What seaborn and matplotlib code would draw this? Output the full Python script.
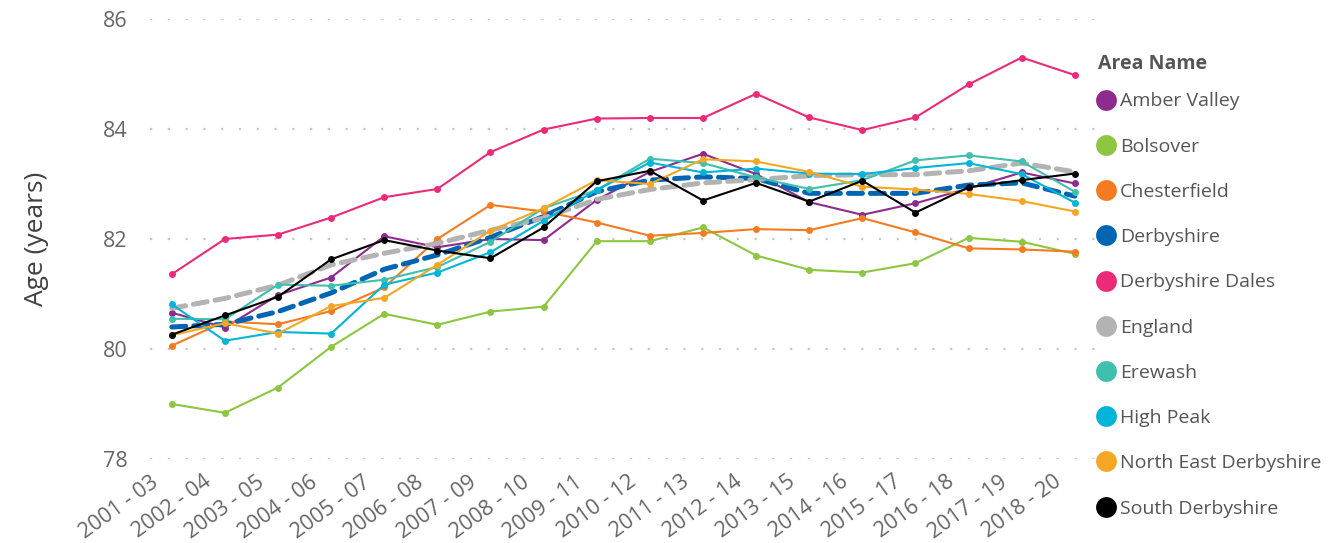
import matplotlib
matplotlib.use('Agg')
import matplotlib.pyplot as plt
import matplotlib.transforms as mtransforms
import seaborn as sns
import pandas as pd

# ===============================
# DADOS
# ===============================
periodos = ['2001 - 03', '2002 - 04', '2003 - 05', '2004 - 06', '2005 - 07', '2006 - 08',
            '2007 - 09', '2008 - 10', '2009 - 11', '2010 - 12', '2011 - 13', '2012 - 14',
            '2013 - 15', '2014 - 16', '2015 - 17', '2016 - 18', '2017 - 19', '2018 - 20']

amber_valley = [80.66, 80.39, 80.98, 81.30, 82.05, 81.85, 82.00, 81.98, 82.71, 83.22, 83.55, 83.18,
                82.67, 82.44, 82.65, 82.92, 83.21, 83.01]
bolsover = [79.00, 78.84, 79.30, 80.04, 80.64, 80.44, 80.68, 80.77, 81.96, 81.96, 82.21, 81.70,
            81.44, 81.39, 81.56, 82.02, 81.95, 81.73]
chesterfield = [80.06, 80.50, 80.45, 80.69, 81.12, 82.00, 82.62, 82.50, 82.30, 82.06, 82.11, 82.18,
                82.16, 82.38, 82.12, 81.83, 81.81, 81.77]
derbyshire = [80.40, 80.45, 80.68, 81.02, 81.45, 81.71, 82.03, 82.41, 82.86, 83.07, 83.13, 83.10,
              82.83, 82.83, 82.83, 82.98, 83.02, 82.78]
derbyshire_dales = [81.36, 82.00, 82.08, 82.39, 82.76, 82.91, 83.58, 83.99, 84.19, 84.20, 84.20, 84.64,
                    84.21, 83.98, 84.21, 84.81, 85.30, 84.98]
england = [80.74, 80.92, 81.16, 81.53, 81.74, 81.92, 82.16, 82.38, 82.72, 82.90, 83.02, 83.08,
           83.15, 83.17, 83.17, 83.24, 83.38, 83.22]
erewash = [80.55, 80.54, 81.17, 81.15, 81.26, 81.49, 81.95, 82.56, 82.89, 83.46, 83.38, 83.12,
           82.91, 83.07, 83.43, 83.52, 83.41, 82.86]
high_peak = [80.81, 80.15, 80.31, 80.28, 81.17, 81.39, 81.76, 82.33, 82.89, 83.39, 83.21, 83.28,
             83.19, 83.18, 83.29, 83.38, 83.18, 82.66]
ne_derbyshire = [80.25, 80.47, 80.28, 80.78, 80.93, 81.53, 82.15, 82.56, 83.07, 83.00, 83.45, 83.41,
                 83.22, 82.95, 82.90, 82.82, 82.69, 82.50]
south_derbyshire = [80.26, 80.61, 80.95, 81.63, 81.98, 81.79, 81.65, 82.21, 83.05, 83.24, 82.70, 83.02,
                    82.68, 83.06, 82.48, 82.94, 83.07, 83.19]

areas = ['Amber Valley', 'Bolsover', 'Chesterfield', 'Derbyshire', 'Derbyshire Dales',
         'England', 'Erewash', 'High Peak', 'North East Derbyshire', 'South Derbyshire']
valores = [amber_valley, bolsover, chesterfield, derbyshire, derbyshire_dales,
           england, erewash, high_peak, ne_derbyshire, south_derbyshire]
cores = ['#8E2B8E', '#8DC63F', '#F47B20', '#0066B3', '#EC2A7A',
         '#B3B3B3', '#3FBFAD', '#00B5D8', '#F5A623', '#000000']

df = pd.DataFrame({
    'Periodo': periodos * len(areas),
    'Idade': [v for serie in valores for v in serie],
    'Area': [a for a in areas for _ in periodos],
})
df['x'] = df.groupby('Area').cumcount()

# ===============================
# GRÁFICO
# ===============================
sns.set_style('white')
plt.rcParams['font.family'] = ['Open Sans', 'DejaVu Sans']

fig = plt.figure(figsize=(13.32, 5.43), dpi=100)
ax = fig.add_axes([150 / 1332, 84 / 543, 945 / 1332, 440 / 543])

for area, cor in zip(areas, cores):
    dados = df[df['Area'] == area]
    if area in ('Derbyshire', 'England'):
        sns.lineplot(data=dados, x='x', y='Idade', ax=ax, color=cor, linewidth=3.6,
                     dashes=False, legend=False)
        ax.lines[-1].set_dashes((2.8, 1.6))
        ax.lines[-1].set_dash_capstyle('round')
    else:
        sns.lineplot(data=dados, x='x', y='Idade', ax=ax, color=cor, linewidth=1.5,
                     marker='o', markersize=5, markeredgewidth=0, legend=False)

ax.set_ylim(78, 86)
ax.set_xlim(-0.41, 17.38)
ax.set_yticks([78, 80, 82, 84, 86])
ax.set_xticks(range(len(periodos)))
ax.set_xticklabels(periodos, rotation=36, ha='right', rotation_mode='anchor')
ax.tick_params(axis='both', length=0, labelcolor='#666666')
ax.tick_params(axis='y', pad=16, labelsize=15.5)
ax.tick_params(axis='x', pad=3, labelsize=15.5)
desloc = mtransforms.ScaledTranslation(-16 / 72, -6 / 72, fig.dpi_scale_trans)
for lbl in ax.get_xticklabels():
    lbl.set_transform(lbl.get_transform() + desloc)

ax.grid(axis='y', color='#C8C8C8', linestyle=(0, (1, 7)), linewidth=1.6)
ax.grid(axis='x', visible=False)
for s in ax.spines.values():
    s.set_visible(False)

ax.set_xlabel('')
ax.set_ylabel('Age (years)', fontsize=19, color='#404040')
ax.yaxis.set_label_coords((49 - 150) / 945, 0.5)

# legenda
handles = [plt.Line2D([], [], marker='o', linestyle='', markersize=15,
                      markerfacecolor=c, markeredgewidth=0) for c in cores]
leg = fig.legend(handles, areas, loc='upper left',
                 bbox_to_anchor=(1075 / 1332, 1 - 75 / 543), frameon=False,
                 fontsize=14, labelspacing=1.40,
                 handletextpad=0.0, handlelength=1.4)
for t in leg.get_texts():
    t.set_color('#555555')
fig.text(1098 / 1332, 1 - 64 / 543, 'Area Name', fontsize=14, fontweight='bold',
         color='#555555', ha='left', va='center')

fig.savefig('out.png', dpi=100)
